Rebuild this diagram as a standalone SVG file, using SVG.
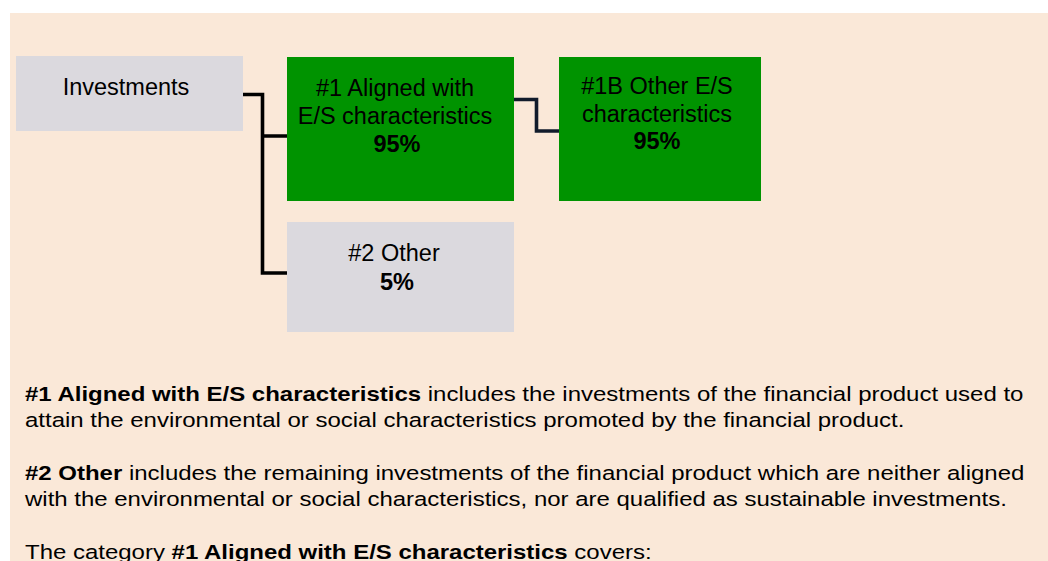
<svg xmlns="http://www.w3.org/2000/svg" width="1048" height="561" viewBox="0 0 1048 561">
<style>
.t{font-family:"Liberation Sans",Arial,sans-serif;fill:#000}
.bx{font-size:23.5px;text-anchor:middle}
.b{font-weight:bold}
.p{font-size:20.5px}
.gray{fill:#DBD9DE}
.green{fill:#009300}
.c1{fill:none;stroke:#000;stroke-width:3.6;stroke-linejoin:miter}
.c2{fill:none;stroke:#111B2B;stroke-width:3.6;stroke-linejoin:miter}
</style>
<rect x="0" y="0" width="1048" height="561" fill="#FFFFFF"/>
<rect x="10" y="13" width="1038" height="548" fill="#FAE8D8"/>
<g id="connectors">
<path class="c1" d="M243 94.5 H262.5 V273 H287 M262.5 136 H287"/>
<path class="c2" d="M514 99.5 H536.5 V131 H559"/>
</g>
<g id="investments">
<rect class="gray" x="16" y="56" width="227" height="75"/>
<text class="t bx" x="126" y="94.5">Investments</text>
</g>
<g id="aligned">
<rect class="green" x="287" y="57" width="227" height="144"/>
<text class="t bx" x="395" y="95.5">#1 Aligned with</text>
<text class="t bx" x="395" y="123.5">E/S characteristics</text>
<text class="t bx b" x="397" y="151.5">95%</text>
</g>
<g id="other-es">
<rect class="green" x="559" y="57" width="202" height="144"/>
<text class="t bx" x="657" y="94">#1B Other E/S</text>
<text class="t bx" x="657" y="121.5">characteristics</text>
<text class="t bx b" x="657" y="149">95%</text>
</g>
<g id="other">
<rect class="gray" x="287" y="222" width="227" height="110"/>
<text class="t bx" x="394" y="261">#2 Other</text>
<text class="t bx b" x="397" y="290">5%</text>
</g>
<g id="description" transform="scale(1.17 1)">
<text class="t p" x="21.37" y="401"><tspan class="b">#1 Aligned with E/S characteristics</tspan> includes the investments of the financial product used to</text>
<text class="t p" x="21.37" y="427">attain the environmental or social characteristics promoted by the financial product.</text>
<text class="t p" x="21.37" y="480"><tspan class="b">#2 Other</tspan> includes the remaining investments of the financial product which are neither aligned</text>
<text class="t p" x="21.37" y="506">with the environmental or social characteristics, nor are qualified as sustainable investments.</text>
<text class="t p" x="21.37" y="559">The category <tspan class="b">#1 Aligned with E/S characteristics</tspan> covers:</text>
</g>
</svg>
